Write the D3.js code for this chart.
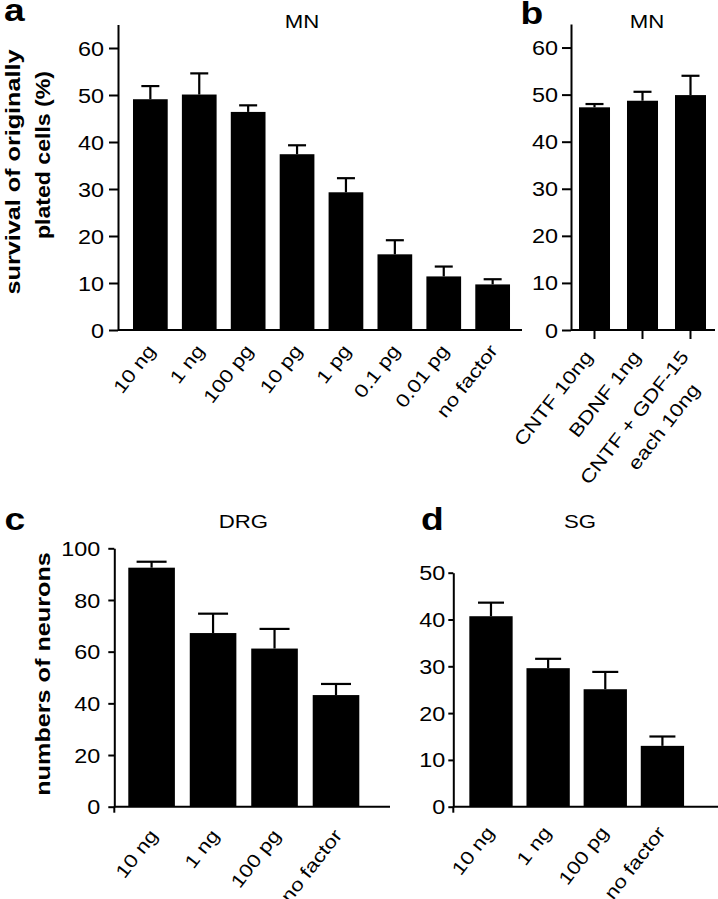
<!DOCTYPE html>
<html><head><meta charset="utf-8">
<script src="https://cdn.jsdelivr.net/npm/d3@7"></script>
<style>
body{margin:0;background:#fff}
svg{display:block}
text{font-family:"Liberation Sans",Arial,Helvetica,sans-serif;fill:#000}
</style>
</head><body>
<svg id="chart" width="718" height="899"></svg>
<script>
// ---------- data ----------
const catsA = ["10 ng","1 ng","100 pg","10 pg","1 pg","0.1 pg","0.01 pg","no factor"];
const valsA = [49.1, 50.1, 46.4, 37.4, 29.3, 16.1, 11.4, 9.7];
const errsA = [2.8, 4.5, 1.4, 1.9, 3.0, 3.0, 2.1, 1.1];
const ticksA = [0, 10, 20, 30, 40, 50, 60];

const catsB = ["CNTF 10ng", "BDNF 1ng", "CNTF + GDF-15\neach 10ng"];
const valsB = [47.3, 48.7, 49.9];
const errsB = [0.7, 1.9, 4.1];
const ticksB = [0, 10, 20, 30, 40, 50, 60];

const catsC = ["10 ng","1 ng","100 pg","no factor"];
const valsC = [92.5, 67.2, 61.2, 43.2];
const errsC = [2.3, 7.5, 7.6, 4.3];
const ticksC = [0, 20, 40, 60, 80, 100];

const catsD = ["10 ng","1 ng","100 pg","no factor"];
const valsD = [40.7, 29.6, 25.1, 13.0];
const errsD = [2.9, 2.0, 3.7, 2.0];
const ticksD = [0, 10, 20, 30, 40, 50];

// ---------- layout ----------
const SX = 1.2;           // horizontal glyph stretch seen in the figure
const TICK_FS = 19.5, CAT_FS = 18.5, TITLE_FS = 18.5, YLAB_FS = 21, LETTER_FS = 31;
const CAT_ANGLE = -52;
const svg = d3.select("#chart");

function stext(parent, str, x, y, angle, anchor, size, weight, sx) {
  return parent.append("text")
    .attr("transform", `translate(${x},${y}) rotate(${angle}) scale(${sx || SX},1)`)
    .attr("text-anchor", anchor)
    .attr("font-size", size)
    .attr("font-weight", weight || "normal")
    .text(str);
}

function panel(cfg, cats, vals, errs, ticks) {
  const g = svg.append("g");
  const x = d3.scaleBand().domain(cats).range(cfg.band)
    .paddingInner(cfg.pi).paddingOuter(cfg.po);
  const y = d3.scaleLinear().domain(cfg.dom).range([cfg.y0, cfg.yTop]);
  const bw = x.bandwidth();

  // bars
  g.selectAll("rect.bar").data(cats).join("rect").attr("class", "bar")
    .attr("x", d => x(d)).attr("width", bw)
    .attr("y", (d, i) => y(vals[i]))
    .attr("height", (d, i) => y(0) - y(vals[i]))
    .attr("fill", "#000");

  // error bars (upper only)
  const eb = g.selectAll("g.err").data(cats).join("g").attr("class", "err")
    .attr("stroke", "#000").attr("stroke-width", 2.2);
  eb.append("line")
    .attr("x1", d => x(d) + bw / 2).attr("x2", d => x(d) + bw / 2)
    .attr("y1", (d, i) => y(vals[i])).attr("y2", (d, i) => y(vals[i] + errs[i]));
  eb.append("line")
    .attr("x1", d => x(d) + bw / 2 - cfg.cap / 2).attr("x2", d => x(d) + bw / 2 + cfg.cap / 2)
    .attr("y1", (d, i) => y(vals[i] + errs[i])).attr("y2", (d, i) => y(vals[i] + errs[i]));

  // x axis line
  g.append("line").attr("x1", cfg.xa[0]).attr("x2", cfg.xa[1])
    .attr("y1", y(0)).attr("y2", y(0)).attr("stroke", "#000").attr("stroke-width", 2);
  if (cfg.ext) {
    g.append("line").attr("x1", cfg.ax).attr("x2", cfg.ax)
      .attr("y1", y(0)).attr("y2", y(0) + cfg.ext).attr("stroke", "#000").attr("stroke-width", 2);
  }
  if (cfg.xticks) {
    const gx = g.append("g").attr("transform", `translate(0,${y(0)})`)
      .call(d3.axisBottom(x).tickSize(cfg.xticks).tickSizeOuter(0).tickFormat(""));
    gx.select(".domain").remove();
    gx.selectAll(".tick line").attr("stroke-width", 2);
  }

  // y axis
  const ga = g.append("g").attr("transform", `translate(${cfg.ax},0)`)
    .call(d3.axisLeft(y).tickValues(ticks).tickSize(cfg.tick).tickSizeOuter(0));
  ga.attr("font-family", null).attr("font-size", TICK_FS);
  ga.select(".domain").attr("stroke-width", 2);
  ga.selectAll(".tick line").attr("stroke-width", 2);
  ga.selectAll(".tick text").attr("x", 0).attr("dy", "0.36em")
    .attr("transform", `translate(${-cfg.lab},0) scale(${SX},1)`);

  // category labels
  cats.forEach(c => {
    const lines = c.split("\n");
    const gl = g.append("g").attr("transform",
      `translate(${x(c) + bw / 2 + cfg.ldx},${y(0) + cfg.ldy}) rotate(${CAT_ANGLE})`);
    lines.forEach((ln, j) => {
      gl.append("text")
        .attr("transform", `translate(${j * cfg.l2[0]},${j * cfg.l2[1]}) scale(${SX},1)`)
        .attr("text-anchor", "end").attr("font-size", CAT_FS).text(ln);
    });
  });

  // title
  stext(svg, cfg.title, cfg.tpos[0], cfg.tpos[1], 0, "middle", TITLE_FS);
  stext(svg, cfg.letter, cfg.lpos[0], cfg.lpos[1], 0, "start", LETTER_FS, "bold");
}

panel({band: [121.5, 521.5], pi: 0.29, po: 0.235, dom: [0, 65], y0: 330, yTop: 24.5,
       ax: 118, xa: [118, 522], tick: 9, lab: 14, cap: 18, ldx: 6, ldy: 21, l2: [0, 0],
       title: "MN", tpos: [302, 27.7], letter: "a", lpos: [4, 21]},
      catsA, valsA, errsA, ticksA);

panel({band: [569.4, 715.6], pi: 0.354, po: 0.2, dom: [0, 65], y0: 330, yTop: 24,
       ax: 571, xa: [571, 715], tick: 9, lab: 13, cap: 18, ldx: -1, ldy: 27, l2: [-19, 29],
       xticks: 9,
       title: "MN", tpos: [647, 28.3], letter: "b", lpos: [520.5, 24]},
      catsB, valsB, errsB, ticksB);

panel({band: [116, 371.6], pi: 0.242, po: 0.2, dom: [0, 100], y0: 806.7, yTop: 548.3,
       ax: 114.3, xa: [114.3, 390], tick: 6, lab: 14, cap: 30, ldx: 7, ldy: 29, l2: [0, 0],
       ext: 6,
       title: "DRG", tpos: [243.3, 528.3], letter: "c", lpos: [4.5, 530]},
      catsC, valsC, errsC, ticksC);

panel({band: [457.9, 695.5], pi: 0.242, po: 0.2, dom: [0, 50], y0: 806.7, yTop: 572.7,
       ax: 453.3, xa: [453.3, 718], tick: 5, lab: 8, cap: 26, ldx: 4, ldy: 26, l2: [0, 0],
       ext: 6,
       title: "SG", tpos: [580, 528.3], letter: "d", lpos: [421, 530]},
      catsD, valsD, errsD, ticksD);

// y-axis titles
stext(svg, "survival of originally", 19.5, 172, -90, "middle", YLAB_FS, "bold");
stext(svg, "plated cells (%)", 50, 155, -90, "middle", YLAB_FS, "bold", 1.1);
stext(svg, "numbers of neurons", 50, 674, -90, "middle", YLAB_FS, "bold");
</script>
</body></html>
